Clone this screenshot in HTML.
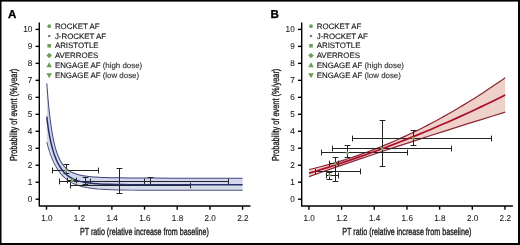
<!DOCTYPE html>
<html><head><meta charset="utf-8"><style>
html,body{margin:0;padding:0;background:#fff;}
body{width:520px;height:245px;overflow:hidden;position:relative;}
svg{position:absolute;left:0;top:0;will-change:transform;}
text{text-rendering:geometricPrecision;font-family:"Liberation Sans",sans-serif;fill:#1a1a1a;stroke:#1a1a1a;stroke-width:0.22px;}
.pl{font-size:11.6px;font-weight:bold;fill:#000;stroke:#000;stroke-width:0.3px;}
.tk{font-size:8.6px;stroke-width:0.08px;fill:#222;stroke:#222;}
.at{font-size:9.4px;stroke-width:0.28px;fill:#111;stroke:#111;}
.lg{font-size:7.9px;stroke-width:0.14px;}
.lt{fill:#333;stroke:#333;}
.ax{stroke:#000;stroke-width:1.4;fill:none;}
.eb{stroke:#242424;stroke-width:1;fill:none;}
.g{fill:#6e9d55;}
.dm .g, .dm circle{fill:#7fa860;}
.bl{stroke:#3f4577;stroke-width:1;fill:none;stroke-linejoin:round;}
.bl2{stroke:#4a5080;stroke-width:0.9;fill:none;stroke-linejoin:round;}
.bm{stroke:#262f68;stroke-width:1.5;fill:none;stroke-linejoin:round;}
.rl{stroke:#962434;stroke-width:1.05;fill:none;stroke-linejoin:round;}
.rm{stroke:#ad0e2c;stroke-width:1.7;fill:none;stroke-linejoin:round;}
</style></head><body>
<svg width="520" height="245" viewBox="0 0 520 245">
<rect x="0" y="0" width="520" height="245" fill="#fff"/>
<text x="8.1" y="17.7" class="pl">A</text>
<path d="M39.30,22.4 V206 H250.50" class="ax"/>
<path d="M35.60,199.20 H39.30" class="ax"/>
<text transform="translate(32.30,202.25) scale(0.95,1)" class="tk" text-anchor="end">0</text>
<path d="M35.60,182.22 H39.30" class="ax"/>
<text transform="translate(32.30,185.27) scale(0.95,1)" class="tk" text-anchor="end">1</text>
<path d="M35.60,165.24 H39.30" class="ax"/>
<text transform="translate(32.30,168.29) scale(0.95,1)" class="tk" text-anchor="end">2</text>
<path d="M35.60,148.26 H39.30" class="ax"/>
<text transform="translate(32.30,151.31) scale(0.95,1)" class="tk" text-anchor="end">3</text>
<path d="M35.60,131.28 H39.30" class="ax"/>
<text transform="translate(32.30,134.33) scale(0.95,1)" class="tk" text-anchor="end">4</text>
<path d="M35.60,114.30 H39.30" class="ax"/>
<text transform="translate(32.30,117.35) scale(0.95,1)" class="tk" text-anchor="end">5</text>
<path d="M35.60,97.32 H39.30" class="ax"/>
<text transform="translate(32.30,100.37) scale(0.95,1)" class="tk" text-anchor="end">6</text>
<path d="M35.60,80.34 H39.30" class="ax"/>
<text transform="translate(32.30,83.39) scale(0.95,1)" class="tk" text-anchor="end">7</text>
<path d="M35.60,63.36 H39.30" class="ax"/>
<text transform="translate(32.30,66.41) scale(0.95,1)" class="tk" text-anchor="end">8</text>
<path d="M35.60,46.38 H39.30" class="ax"/>
<text transform="translate(32.30,49.43) scale(0.95,1)" class="tk" text-anchor="end">9</text>
<path d="M35.60,29.40 H39.30" class="ax"/>
<text transform="translate(32.30,32.45) scale(0.95,1)" class="tk" text-anchor="end">10</text>
<path d="M46.50,206 V209.7" class="ax"/>
<text transform="translate(46.80,220.9) scale(0.95,1)" class="tk" text-anchor="middle">1.0</text>
<path d="M79.18,206 V209.7" class="ax"/>
<text transform="translate(79.48,220.9) scale(0.95,1)" class="tk" text-anchor="middle">1.2</text>
<path d="M111.86,206 V209.7" class="ax"/>
<text transform="translate(112.16,220.9) scale(0.95,1)" class="tk" text-anchor="middle">1.4</text>
<path d="M144.54,206 V209.7" class="ax"/>
<text transform="translate(144.84,220.9) scale(0.95,1)" class="tk" text-anchor="middle">1.6</text>
<path d="M177.22,206 V209.7" class="ax"/>
<text transform="translate(177.52,220.9) scale(0.95,1)" class="tk" text-anchor="middle">1.8</text>
<path d="M209.90,206 V209.7" class="ax"/>
<text transform="translate(210.20,220.9) scale(0.95,1)" class="tk" text-anchor="middle">2.0</text>
<path d="M242.58,206 V209.7" class="ax"/>
<text transform="translate(242.88,220.9) scale(0.95,1)" class="tk" text-anchor="middle">2.2</text>
<text transform="translate(144.40,234.8) scale(0.765,1.08)" class="at" text-anchor="middle">PT ratio (relative increase from baseline)</text>
<text transform="translate(16.50,114.9) rotate(-90) scale(0.785,1.08)" class="at" text-anchor="middle">Probability of event (%/year)</text>
<circle cx="49.20" cy="26.20" r="1.85" class="g"/>
<text x="54.90" y="28.80" class="lg">ROCKET AF</text>
<circle cx="49.20" cy="35.98" r="1.30" fill="#74856a"/>
<text x="54.90" y="38.58" class="lg">J-ROCKET AF</text>
<rect x="47.40" y="43.96" width="3.60" height="3.60" class="g"/>
<text x="54.90" y="48.36" class="lg">ARISTOTLE</text>
<path d="M49.20,52.74 L52.00,55.54 L49.20,58.34 L46.40,55.54Z" class="g"/>
<text x="54.90" y="58.14" class="lg">AVERROES</text>
<path d="M49.20,62.22 L52.00,67.22 L46.40,67.22Z" class="g"/>
<text x="54.90" y="67.92" class="lg">ENGAGE AF<tspan class="lt"> (high dose)</tspan></text>
<path d="M49.20,78.20 L52.00,73.20 L46.40,73.20Z" class="g"/>
<text x="54.90" y="77.70" class="lg">ENGAGE AF<tspan class="lt"> (low dose)</tspan></text>
<text x="270.5" y="17.7" class="pl">B</text>
<path d="M301.70,22.4 V206 H512.90" class="ax"/>
<path d="M298.00,199.20 H301.70" class="ax"/>
<text transform="translate(294.70,202.25) scale(0.95,1)" class="tk" text-anchor="end">0</text>
<path d="M298.00,182.22 H301.70" class="ax"/>
<text transform="translate(294.70,185.27) scale(0.95,1)" class="tk" text-anchor="end">1</text>
<path d="M298.00,165.24 H301.70" class="ax"/>
<text transform="translate(294.70,168.29) scale(0.95,1)" class="tk" text-anchor="end">2</text>
<path d="M298.00,148.26 H301.70" class="ax"/>
<text transform="translate(294.70,151.31) scale(0.95,1)" class="tk" text-anchor="end">3</text>
<path d="M298.00,131.28 H301.70" class="ax"/>
<text transform="translate(294.70,134.33) scale(0.95,1)" class="tk" text-anchor="end">4</text>
<path d="M298.00,114.30 H301.70" class="ax"/>
<text transform="translate(294.70,117.35) scale(0.95,1)" class="tk" text-anchor="end">5</text>
<path d="M298.00,97.32 H301.70" class="ax"/>
<text transform="translate(294.70,100.37) scale(0.95,1)" class="tk" text-anchor="end">6</text>
<path d="M298.00,80.34 H301.70" class="ax"/>
<text transform="translate(294.70,83.39) scale(0.95,1)" class="tk" text-anchor="end">7</text>
<path d="M298.00,63.36 H301.70" class="ax"/>
<text transform="translate(294.70,66.41) scale(0.95,1)" class="tk" text-anchor="end">8</text>
<path d="M298.00,46.38 H301.70" class="ax"/>
<text transform="translate(294.70,49.43) scale(0.95,1)" class="tk" text-anchor="end">9</text>
<path d="M298.00,29.40 H301.70" class="ax"/>
<text transform="translate(294.70,32.45) scale(0.95,1)" class="tk" text-anchor="end">10</text>
<path d="M308.90,206 V209.7" class="ax"/>
<text transform="translate(309.20,220.9) scale(0.95,1)" class="tk" text-anchor="middle">1.0</text>
<path d="M341.58,206 V209.7" class="ax"/>
<text transform="translate(341.88,220.9) scale(0.95,1)" class="tk" text-anchor="middle">1.2</text>
<path d="M374.26,206 V209.7" class="ax"/>
<text transform="translate(374.56,220.9) scale(0.95,1)" class="tk" text-anchor="middle">1.4</text>
<path d="M406.94,206 V209.7" class="ax"/>
<text transform="translate(407.24,220.9) scale(0.95,1)" class="tk" text-anchor="middle">1.6</text>
<path d="M439.62,206 V209.7" class="ax"/>
<text transform="translate(439.92,220.9) scale(0.95,1)" class="tk" text-anchor="middle">1.8</text>
<path d="M472.30,206 V209.7" class="ax"/>
<text transform="translate(472.60,220.9) scale(0.95,1)" class="tk" text-anchor="middle">2.0</text>
<path d="M504.98,206 V209.7" class="ax"/>
<text transform="translate(505.28,220.9) scale(0.95,1)" class="tk" text-anchor="middle">2.2</text>
<text transform="translate(406.80,234.8) scale(0.765,1.08)" class="at" text-anchor="middle">PT ratio (relative increase from baseline)</text>
<text transform="translate(278.90,114.9) rotate(-90) scale(0.785,1.08)" class="at" text-anchor="middle">Probability of event (%/year)</text>
<circle cx="311.00" cy="26.20" r="1.85" class="g"/>
<text x="316.70" y="28.80" class="lg">ROCKET AF</text>
<circle cx="311.00" cy="35.98" r="1.30" fill="#74856a"/>
<text x="316.70" y="38.58" class="lg">J-ROCKET AF</text>
<rect x="309.20" y="43.96" width="3.60" height="3.60" class="g"/>
<text x="316.70" y="48.36" class="lg">ARISTOTLE</text>
<path d="M311.00,52.74 L313.80,55.54 L311.00,58.34 L308.20,55.54Z" class="g"/>
<text x="316.70" y="58.14" class="lg">AVERROES</text>
<path d="M311.00,62.22 L313.80,67.22 L308.20,67.22Z" class="g"/>
<text x="316.70" y="67.92" class="lg">ENGAGE AF<tspan class="lt"> (high dose)</tspan></text>
<path d="M311.00,78.20 L313.80,73.20 L308.20,73.20Z" class="g"/>
<text x="316.70" y="77.70" class="lg">ENGAGE AF<tspan class="lt"> (low dose)</tspan></text>
<path d="M46.80,83.36 L47.28,89.82 L47.76,95.76 L48.23,101.23 L48.71,106.27 L49.19,110.92 L49.67,115.21 L50.14,119.18 L50.62,122.85 L51.10,126.25 L51.82,130.89 L52.29,133.71 L53.01,137.57 L53.49,139.92 L54.20,143.15 L54.92,146.06 L55.64,148.68 L56.35,151.05 L57.07,153.19 L57.79,155.13 L58.26,156.33 L58.74,157.45 L59.46,159.01 L59.94,159.97 L60.41,160.87 L60.89,161.72 L61.37,162.52 L61.85,163.27 L62.33,163.98 L62.80,164.65 L63.28,165.29 L63.76,165.88 L64.47,166.72 L65.43,167.73 L65.91,168.19 L66.62,168.84 L67.10,169.25 L67.82,169.82 L68.54,170.35 L69.25,170.84 L69.97,171.29 L70.68,171.71 L71.40,172.09 L72.12,172.45 L73.31,173.00 L74.75,173.58 L76.18,174.08 L77.85,174.58 L79.28,174.95 L81.00,175.34 L83.02,175.73 L85.03,176.05 L87.05,176.33 L89.07,176.56 L91.08,176.76 L93.10,176.93 L95.12,177.07 L99.15,177.31 L101.17,177.40 L105.20,177.56 L111.25,177.73 L119.32,177.87 L129.41,177.98 L141.51,178.06 L155.63,178.11 L173.78,178.14 L242.60,178.18 L242.60,184.72 L141.51,184.68 L129.41,184.63 L121.34,184.56 L115.29,184.48 L109.24,184.35 L105.20,184.22 L103.19,184.14 L99.15,183.94 L97.14,183.82 L95.12,183.67 L93.10,183.50 L91.08,183.29 L89.07,183.06 L87.05,182.78 L85.03,182.45 L83.02,182.07 L81.00,181.61 L79.76,181.30 L78.33,180.88 L76.89,180.42 L75.94,180.07 L75.22,179.80 L74.27,179.40 L73.55,179.08 L72.12,178.38 L71.40,178.00 L70.68,177.59 L69.97,177.16 L69.25,176.69 L68.06,175.85 L67.34,175.30 L66.62,174.71 L65.91,174.08 L65.43,173.64 L64.71,172.94 L64.24,172.45 L63.52,171.66 L63.04,171.11 L62.33,170.23 L61.85,169.61 L60.89,168.28 L59.94,166.82 L58.98,165.22 L58.50,164.36 L58.03,163.45 L57.55,162.50 L57.07,161.50 L56.59,160.45 L56.12,159.34 L55.40,157.58 L54.92,156.32 L54.44,154.99 L53.73,152.86 L53.01,150.54 L52.29,148.02 L51.58,145.27 L50.86,142.25 L50.14,138.92 L49.67,136.50 L48.95,132.53 L48.47,129.61 L47.99,126.41 L47.52,122.88 L47.04,118.87 L46.80,116.58 Z" fill="#d2d6ee"/>
<path d="M46.80,116.58 L47.04,118.87 L47.52,122.88 L47.99,126.41 L48.47,129.61 L48.95,132.53 L49.67,136.50 L50.14,138.92 L50.86,142.25 L51.58,145.27 L52.29,148.02 L53.01,150.54 L53.73,152.86 L54.44,154.99 L54.92,156.32 L55.40,157.58 L56.12,159.34 L56.59,160.45 L57.07,161.50 L57.55,162.50 L58.03,163.45 L58.50,164.36 L58.98,165.22 L59.94,166.82 L60.89,168.28 L61.85,169.61 L62.33,170.23 L63.04,171.11 L63.52,171.66 L64.24,172.45 L64.71,172.94 L65.43,173.64 L65.91,174.08 L66.62,174.71 L67.34,175.30 L68.06,175.85 L69.25,176.69 L69.97,177.16 L70.68,177.59 L71.40,178.00 L72.12,178.38 L73.55,179.08 L74.27,179.40 L75.22,179.80 L75.94,180.07 L76.89,180.42 L78.33,180.88 L79.76,181.30 L81.00,181.61 L83.02,182.07 L85.03,182.45 L87.05,182.78 L89.07,183.06 L91.08,183.29 L93.10,183.50 L95.12,183.67 L97.14,183.82 L99.15,183.94 L103.19,184.14 L105.20,184.22 L109.24,184.35 L115.29,184.48 L121.34,184.56 L129.41,184.63 L141.51,184.68 L242.60,184.72 L242.60,190.26 L149.58,190.22 L139.49,190.18 L131.42,190.13 L123.36,190.03 L117.31,189.92 L111.25,189.75 L107.22,189.60 L105.20,189.50 L101.17,189.26 L99.15,189.11 L97.14,188.95 L95.12,188.75 L93.10,188.53 L91.08,188.28 L89.07,187.98 L87.05,187.64 L85.03,187.25 L83.02,186.81 L81.00,186.29 L79.52,185.86 L77.85,185.32 L76.18,184.71 L74.51,184.02 L73.07,183.36 L71.64,182.62 L70.21,181.81 L68.77,180.91 L67.58,180.08 L66.86,179.55 L66.15,178.99 L64.95,177.98 L63.76,176.88 L62.56,175.68 L61.37,174.37 L60.41,173.23 L59.70,172.31 L59.22,171.68 L58.26,170.33 L57.31,168.88 L56.35,167.31 L55.40,165.63 L54.44,163.80 L53.49,161.83 L52.77,160.25 L51.82,157.98 L51.10,156.16 L50.14,153.53 L49.43,151.41 L48.71,149.13 L47.99,146.67 L47.28,143.99 L46.80,142.03 Z" fill="#d6dde9"/>
<path d="M46.30,83.39 L46.78,89.86 L47.26,95.80 L47.74,101.28 L48.21,106.32 L48.69,110.97 L49.17,115.27 L49.65,119.24 L50.13,122.92 L50.60,126.32 L51.32,130.97 L51.80,133.80 L52.52,137.67 L53.00,140.03 L53.72,143.26 L54.44,146.18 L55.16,148.82 L55.88,151.20 L56.60,153.36 L57.32,155.31 L57.80,156.52 L58.29,157.66 L59.01,159.22 L59.49,160.20 L59.98,161.11 L60.46,161.97 L60.94,162.78 L61.43,163.55 L61.91,164.27 L62.40,164.95 L62.89,165.59 L63.37,166.20 L64.10,167.05 L65.07,168.08 L65.57,168.56 L66.29,169.22 L66.79,169.64 L67.51,170.22 L68.25,170.76 L68.98,171.25 L69.71,171.71 L70.44,172.14 L71.17,172.54 L71.90,172.91 L73.12,173.46 L74.57,174.04 L76.02,174.55 L77.71,175.06 L79.17,175.44 L80.90,175.83 L82.93,176.22 L84.96,176.55 L86.99,176.82 L89.01,177.06 L91.04,177.25 L93.06,177.43 L95.09,177.57 L99.13,177.81 L101.15,177.90 L105.19,178.06 L111.24,178.23 L119.31,178.37 L129.40,178.48 L141.51,178.56 L155.63,178.61 L173.78,178.64 L242.60,178.67 L242.60,177.68 L173.78,177.64 L155.63,177.61 L141.51,177.56 L129.41,177.48 L119.33,177.37 L111.27,177.23 L105.22,177.06 L101.19,176.90 L99.18,176.81 L95.15,176.57 L93.14,176.43 L91.13,176.26 L89.12,176.06 L87.11,175.83 L85.11,175.56 L83.10,175.23 L81.10,174.85 L79.40,174.47 L77.99,174.10 L76.33,173.60 L74.92,173.11 L73.51,172.54 L72.33,172.00 L71.63,171.65 L70.93,171.27 L70.23,170.86 L69.53,170.42 L68.82,169.94 L68.12,169.42 L67.42,168.86 L66.96,168.47 L66.25,167.83 L65.79,167.38 L64.85,166.38 L64.14,165.56 L63.68,164.98 L63.21,164.36 L62.74,163.70 L62.27,163.00 L61.80,162.26 L61.32,161.47 L60.85,160.63 L60.38,159.74 L59.91,158.79 L59.20,157.25 L58.73,156.14 L58.25,154.96 L57.54,153.03 L56.83,150.89 L56.12,148.54 L55.40,145.93 L54.69,143.04 L53.98,139.82 L53.50,137.48 L52.79,133.62 L52.31,130.81 L51.59,126.18 L51.12,122.78 L50.64,119.11 L50.16,115.15 L49.69,110.86 L49.21,106.22 L48.73,101.18 L48.25,95.72 L47.78,89.78 L47.30,83.32 Z" fill="#3f4577"/>
<path d="M46.34,142.15 L46.82,144.11 L47.54,146.80 L48.26,149.26 L48.98,151.55 L49.70,153.69 L50.65,156.33 L51.38,158.16 L52.34,160.44 L53.06,162.04 L54.02,164.02 L54.98,165.85 L55.94,167.56 L56.91,169.13 L57.87,170.60 L58.84,171.95 L59.32,172.60 L60.05,173.52 L61.01,174.68 L62.22,176.01 L63.43,177.23 L64.64,178.34 L65.85,179.35 L66.58,179.93 L67.30,180.47 L68.51,181.31 L69.96,182.22 L71.41,183.04 L72.87,183.78 L74.32,184.45 L76.01,185.15 L77.70,185.77 L79.38,186.31 L80.88,186.75 L82.91,187.27 L84.94,187.72 L86.97,188.11 L88.99,188.45 L91.02,188.75 L93.05,189.00 L95.07,189.23 L97.09,189.42 L99.12,189.59 L101.14,189.73 L105.18,189.97 L107.20,190.07 L111.24,190.23 L117.29,190.40 L123.35,190.51 L131.42,190.60 L139.49,190.66 L149.58,190.70 L242.60,190.74 L242.60,189.79 L149.58,189.75 L139.49,189.71 L131.43,189.65 L123.36,189.56 L117.32,189.45 L111.27,189.28 L107.24,189.12 L105.23,189.02 L101.20,188.79 L99.19,188.64 L97.18,188.47 L95.17,188.28 L93.16,188.06 L91.15,187.81 L89.14,187.51 L87.14,187.18 L85.13,186.79 L83.13,186.34 L81.12,185.83 L79.66,185.41 L78.01,184.87 L76.35,184.26 L74.70,183.58 L73.28,182.93 L71.87,182.21 L70.45,181.40 L69.04,180.51 L67.86,179.69 L67.15,179.17 L66.45,178.62 L65.27,177.63 L64.09,176.54 L62.91,175.35 L61.73,174.05 L60.78,172.93 L60.07,172.02 L59.61,171.40 L58.66,170.06 L57.71,168.62 L56.76,167.07 L55.82,165.40 L54.87,163.59 L53.92,161.63 L53.21,160.06 L52.26,157.81 L51.54,155.99 L50.59,153.38 L49.88,151.26 L49.17,148.99 L48.45,146.54 L47.74,143.87 L47.26,141.92 Z" fill="#4a5080"/>
<path d="M70.50,185.50 H190.50 M70.50,182.60 V188.40 M190.50,182.60 V188.40" class="eb"/>
<path d="M119.50,168.50 V193.50 M116.60,168.50 H122.40 M116.60,193.50 H122.40" class="eb"/>
<path d="M90.50,181.50 H228.50 M90.50,178.60 V184.40 M228.50,178.60 V184.40" class="eb"/>
<path d="M150.50,177.50 V184.50 M147.60,177.50 H153.40 M147.60,184.50 H153.40" class="eb"/>
<path d="M59.50,181.50 H144.50 M59.50,178.60 V184.40 M144.50,178.60 V184.40" class="eb"/>
<path d="M85.50,177.50 V184.50 M82.60,177.50 H88.40 M82.60,184.50 H88.40" class="eb"/>
<path d="M52.50,170.50 H98.50 M52.50,167.60 V173.40 M98.50,167.60 V173.40" class="eb"/>
<path d="M66.50,164.50 V173.50 M63.60,164.50 H69.40 M63.60,173.50 H69.40" class="eb"/>
<path d="M67.50,180.50 H76.50 M67.50,177.60 V183.40 M76.50,177.60 V183.40" class="eb"/>

<path d="M46.05,116.66 L46.29,118.95 L46.77,122.97 L47.25,126.52 L47.73,129.72 L48.21,132.66 L48.93,136.64 L49.41,139.07 L50.13,142.41 L50.85,145.45 L51.57,148.22 L52.29,150.76 L53.01,153.09 L53.73,155.23 L54.22,156.58 L54.70,157.85 L55.42,159.63 L55.91,160.75 L56.39,161.82 L56.87,162.83 L57.36,163.79 L57.84,164.71 L58.33,165.60 L59.30,167.22 L60.27,168.71 L61.24,170.06 L61.74,170.70 L62.47,171.59 L62.96,172.16 L63.69,172.96 L64.18,173.47 L64.91,174.18 L65.41,174.64 L66.14,175.28 L66.87,175.89 L67.62,176.46 L68.83,177.31 L69.57,177.79 L70.30,178.24 L71.04,178.66 L71.78,179.05 L73.23,179.76 L73.97,180.09 L74.94,180.49 L75.68,180.78 L76.65,181.13 L78.11,181.60 L79.56,182.02 L80.83,182.34 L82.86,182.80 L84.90,183.19 L86.94,183.52 L88.97,183.80 L91.00,184.04 L93.03,184.24 L95.06,184.42 L97.08,184.56 L99.11,184.69 L103.15,184.89 L105.18,184.97 L109.22,185.10 L115.27,185.23 L121.33,185.31 L129.40,185.38 L141.51,185.43 L242.60,185.47 L242.60,183.97 L141.51,183.93 L129.41,183.88 L121.35,183.81 L115.30,183.73 L109.26,183.60 L105.23,183.47 L103.22,183.39 L99.19,183.19 L97.19,183.07 L95.18,182.92 L93.17,182.75 L91.17,182.55 L89.16,182.31 L87.16,182.04 L85.16,181.71 L83.17,181.33 L81.17,180.88 L79.96,180.57 L78.55,180.17 L77.14,179.71 L76.20,179.37 L75.50,179.10 L74.56,178.71 L73.87,178.41 L72.46,177.72 L71.76,177.34 L71.07,176.95 L70.37,176.52 L69.68,176.07 L68.50,175.24 L67.81,174.71 L67.11,174.14 L66.41,173.52 L65.95,173.10 L65.24,172.41 L64.78,171.93 L64.08,171.16 L63.62,170.63 L62.91,169.76 L62.45,169.17 L61.51,167.86 L60.57,166.43 L59.63,164.84 L59.16,164.00 L58.69,163.11 L58.22,162.17 L57.75,161.18 L57.28,160.15 L56.81,159.06 L56.10,157.30 L55.62,156.06 L55.15,154.75 L54.44,152.63 L53.73,150.33 L53.02,147.83 L52.30,145.09 L51.59,142.08 L50.88,138.76 L50.40,136.36 L49.69,132.40 L49.21,129.49 L48.74,126.31 L48.26,122.79 L47.78,118.79 L47.55,116.51 Z" fill="#262f68"/>
<g class="dm">
<path d="M66.40,168.54 L68.36,170.50 L66.40,172.46 L64.44,170.50Z" class="g"/>
<path d="M72.30,178.43 L74.26,181.93 L70.34,181.93Z" class="g"/>
<path d="M72.30,182.17 L74.26,178.67 L70.34,178.67Z" class="g"/>
</g>
<path d="M309.00,169.54 L311.48,168.96 L316.45,167.76 L321.42,166.50 L326.38,165.18 L328.87,164.49 L333.84,163.08 L338.80,161.61 L343.77,160.08 L346.25,159.29 L348.74,158.49 L353.70,156.84 L358.67,155.13 L363.64,153.36 L366.12,152.45 L371.09,150.59 L376.06,148.67 L381.02,146.69 L383.51,145.68 L388.47,143.61 L393.44,141.48 L398.41,139.29 L400.89,138.17 L405.86,135.89 L410.83,133.55 L413.31,132.36 L418.28,129.93 L423.24,127.44 L428.21,124.89 L430.69,123.59 L435.66,120.95 L440.63,118.25 L443.11,116.88 L448.08,114.09 L453.05,111.24 L455.53,109.80 L460.50,106.86 L462.98,105.37 L467.95,102.34 L470.43,100.80 L475.40,97.68 L480.36,94.50 L482.85,92.89 L487.82,89.62 L492.78,86.30 L495.27,84.61 L500.23,81.19 L505.20,77.71 L505.20,112.16 L492.78,115.97 L480.36,119.81 L467.95,123.69 L455.53,127.61 L443.11,131.56 L430.69,135.55 L418.28,139.58 L408.34,142.82 L395.92,146.92 L383.51,151.05 L371.09,155.21 L358.67,159.41 L346.25,163.65 L333.84,167.93 L321.42,172.24 L309.00,176.59 Z" fill="#eed2ca"/>
<path d="M309.14,170.12 L311.62,169.54 L316.60,168.34 L321.57,167.08 L326.54,165.76 L329.03,165.07 L334.00,163.66 L338.98,162.19 L343.95,160.65 L346.44,159.86 L348.92,159.06 L353.90,157.41 L358.87,155.69 L363.84,153.92 L366.33,153.01 L371.30,151.15 L376.27,149.23 L381.25,147.24 L383.74,146.23 L388.71,144.16 L393.68,142.03 L398.65,139.83 L401.14,138.71 L406.11,136.43 L411.08,134.09 L413.57,132.90 L418.54,130.46 L423.51,127.97 L428.49,125.42 L430.97,124.12 L435.94,121.48 L440.92,118.78 L443.40,117.40 L448.37,114.61 L453.35,111.76 L455.83,110.31 L460.80,107.37 L463.29,105.88 L468.26,102.85 L470.75,101.31 L475.72,98.19 L480.69,95.01 L483.18,93.39 L488.15,90.12 L493.12,86.79 L495.60,85.11 L500.58,81.69 L505.54,78.21 L504.86,77.22 L499.89,80.70 L494.93,84.12 L492.45,85.80 L487.48,89.12 L482.52,92.39 L480.04,94.00 L475.08,97.18 L470.11,100.29 L467.63,101.83 L462.67,104.85 L460.19,106.34 L455.22,109.28 L452.75,110.72 L447.78,113.57 L442.82,116.36 L440.34,117.73 L435.38,120.42 L430.41,123.06 L427.93,124.35 L422.97,126.90 L418.01,129.39 L413.05,131.82 L410.57,133.01 L405.61,135.34 L400.64,137.62 L398.16,138.74 L393.20,140.92 L388.24,143.05 L383.28,145.12 L380.80,146.13 L375.84,148.11 L370.88,150.03 L365.91,151.89 L363.43,152.79 L358.47,154.56 L353.51,156.27 L348.55,157.92 L346.07,158.72 L343.59,159.51 L338.63,161.04 L333.67,162.51 L328.71,163.92 L326.23,164.60 L321.27,165.92 L316.31,167.18 L311.34,168.38 L308.86,168.96 Z" fill="#8a2636"/>
<path d="M309.20,177.16 L321.62,172.81 L334.03,168.50 L346.45,164.22 L358.86,159.98 L371.28,155.78 L383.70,151.61 L396.11,147.49 L408.53,143.39 L418.46,140.15 L430.88,136.12 L443.29,132.13 L455.71,128.18 L468.13,124.26 L480.54,120.38 L492.96,116.54 L505.38,112.73 L505.02,111.59 L492.61,115.39 L480.19,119.24 L467.77,123.12 L455.35,127.04 L442.93,130.99 L430.51,134.98 L418.09,139.01 L408.15,142.25 L395.74,146.35 L383.32,150.48 L370.90,154.64 L358.48,158.85 L346.06,163.09 L333.64,167.36 L321.22,171.67 L308.80,176.02 Z" fill="#8a2636"/>
<path d="M332.50,148.50 H451.50 M332.50,145.60 V151.40 M451.50,145.60 V151.40" class="eb"/>
<path d="M382.50,120.50 V166.50 M379.60,120.50 H385.40 M379.60,166.50 H385.40" class="eb"/>
<path d="M352.50,138.50 H491.50 M352.50,135.60 V141.40 M491.50,135.60 V141.40" class="eb"/>
<path d="M413.50,130.50 V145.50 M410.60,130.50 H416.40 M410.60,145.50 H416.40" class="eb"/>
<path d="M321.50,152.50 H407.50 M321.50,149.60 V155.40 M407.50,149.60 V155.40" class="eb"/>
<path d="M347.50,145.50 V157.50 M344.60,145.50 H350.40 M344.60,157.50 H350.40" class="eb"/>
<path d="M315.50,171.50 H360.50 M315.50,168.60 V174.40 M360.50,168.60 V174.40" class="eb"/>
<path d="M329.50,163.50 H338.50 M329.50,160.60 V166.40 M338.50,160.60 V166.40" class="eb"/>
<path d="M335.50,157.50 V181.50 M332.60,157.50 H338.40 M332.60,181.50 H338.40" class="eb"/>
<path d="M326.50,175.50 H338.50 M326.50,172.60 V178.40 M338.50,172.60 V178.40" class="eb"/>
<path d="M329.50,172.50 V179.50 M326.60,172.50 H332.40 M326.60,179.50 H332.40" class="eb"/>
<path d="M309.24,173.99 L316.70,171.76 L321.67,170.23 L329.12,167.90 L334.10,166.31 L339.07,164.69 L346.52,162.22 L353.98,159.70 L358.95,157.98 L363.92,156.24 L371.38,153.58 L376.35,151.77 L383.80,149.01 L388.78,147.14 L396.23,144.29 L401.20,142.35 L406.17,140.39 L413.63,137.40 L418.60,135.38 L426.05,132.29 L431.02,130.20 L436.00,128.09 L443.45,124.87 L448.42,122.69 L455.88,119.38 L460.85,117.13 L468.30,113.72 L475.76,110.25 L480.73,107.91 L485.70,105.54 L493.15,101.93 L500.61,98.27 L505.58,95.80 L504.82,94.28 L499.86,96.75 L492.41,100.40 L484.96,104.00 L480.00,106.37 L475.04,108.71 L467.59,112.18 L460.14,115.59 L455.18,117.83 L447.73,121.14 L442.77,123.31 L435.33,126.53 L430.36,128.64 L425.40,130.72 L417.95,133.81 L412.99,135.83 L405.54,138.81 L400.58,140.77 L395.62,142.70 L388.17,145.55 L383.21,147.42 L375.76,150.17 L370.80,151.98 L363.35,154.64 L358.39,156.37 L353.43,158.09 L345.98,160.61 L338.54,163.08 L333.57,164.69 L328.61,166.28 L321.17,168.61 L316.20,170.13 L308.76,172.36 Z" fill="#ad0e2c"/>
<g class="dm">
<circle cx="382.10" cy="148.70" r="1.29" class="g"/>
<rect x="411.84" y="136.84" width="2.52" height="2.52" class="g"/>
<path d="M347.30,150.94 L349.26,152.90 L347.30,154.86 L345.34,152.90Z" class="g"/>
<path d="M335.20,161.43 L337.16,164.93 L333.24,164.93Z" class="g"/>
<path d="M329.60,177.77 L331.56,174.27 L327.64,174.27Z" class="g"/>
</g>
<rect x="0" y="0" width="520" height="1.6" fill="#000"/>
<rect x="0" y="0" width="1.5" height="245" fill="#000"/>
<rect x="518" y="0" width="2" height="245" fill="#000"/>
<rect x="0" y="243" width="520" height="2" fill="#000"/>
</svg>
</body></html>
